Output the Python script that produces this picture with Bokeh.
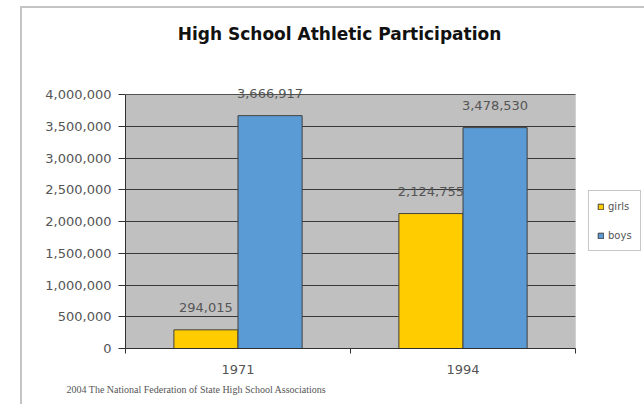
from bokeh.plotting import figure
from bokeh.models import (ColumnDataSource, FixedTicker, NumeralTickFormatter, Range1d,
                          LabelSet, Label, Legend, LegendItem, BoxAnnotation, Title)
from bokeh.core.properties import value
from bokeh.embed import file_html
from bokeh.resources import INLINE

# ---- data ----
years = ["1971", "1994"]
girls = [294015, 2124755]
boys = [3666917, 3478530]
y_ticks = [0, 500000, 1000000, 1500000, 2000000, 2500000, 3000000, 3500000, 4000000]
series_names = ["girls", "boys"]
series_colors = ["#FFCC00", "#5B9BD5"]
title_text = "High School Athletic Participation"
source_text = "2004 The National Federation of State High School Associations"

centers = [i + 0.5 for i in range(len(years))]
bar_w = 0.285
off = bar_w / 2

src = ColumnDataSource(dict(
    xg=[c - off for c in centers],
    xb=[c + off for c in centers],
    girls=girls,
    boys=boys,
    girls_lbl=[f"{v:,}" for v in girls],
    boys_lbl=[f"{v:,}" for v in boys],
))

# the frame spans the whole area right of the axis and above the x axis;
# the grey plot area covers only 0..len(years) x 0..top tick
x_end = len(years) * 519 / 450
y_top = y_ticks[-1] * 348 / 254

p = figure(width=644, height=404, output_backend="svg", toolbar_location=None,
           x_range=Range1d(0, x_end), y_range=Range1d(0, y_top),
           min_border_left=125, min_border_right=0, min_border_top=0, min_border_bottom=56)
p.background_fill_color = None
p.border_fill_color = None
p.outline_line_color = None
p.styles = {
    "background-color": "white",
    "background-image": "linear-gradient(#C4C4C4,#C4C4C4), linear-gradient(#C4C4C4,#C4C4C4)",
    "background-position": "20px 6px, 20px 6px",
    "background-size": "100% 2px, 2px 100%",
    "background-repeat": "no-repeat",
}

# grey plot area fill
p.add_layout(BoxAnnotation(left=0, right=len(years), bottom=y_ticks[0], top=y_ticks[-1],
                           fill_color="#C0C0C0", fill_alpha=1, line_color=None, level="image"))

# axes & grid
p.xgrid.grid_line_color = None
p.ygrid.grid_line_color = "#383838"
p.ygrid.grid_line_width = 1
p.ygrid.ticker = FixedTicker(ticks=y_ticks)

# white cover so grid lines stop at the grey area, then the area's outline
p.add_layout(BoxAnnotation(left=len(years), bottom=y_ticks[0] - 1, top=y_ticks[-1] * 1.01,
                           fill_color="white", fill_alpha=1, line_color=None, level="underlay"))
p.add_layout(BoxAnnotation(left=0, right=len(years), bottom=y_ticks[0], top=y_ticks[-1],
                           fill_alpha=0, line_color="#8A8A8A", line_width=1, level="underlay"))

rg = p.vbar(x="xg", top="girls", width=bar_w, source=src, fill_color=series_colors[0],
            line_color="#404040", line_width=1)
rb = p.vbar(x="xb", top="boys", width=bar_w, source=src, fill_color=series_colors[1],
            line_color="#404040", line_width=1)

lbl_font = "DejaVu Sans"
for xf, yf, tf in (("xg", "girls", "girls_lbl"), ("xb", "boys", "boys_lbl")):
    p.add_layout(LabelSet(x=xf, y=yf, text=tf, source=src, text_align="center",
                          text_baseline="middle", y_offset=22, text_font_size="13px",
                          text_color="#555555", text_font=value(lbl_font)))

p.yaxis.ticker = FixedTicker(ticks=y_ticks)
p.yaxis.bounds = (y_ticks[0], y_ticks[-1])
p.yaxis.formatter = NumeralTickFormatter(format="0,0")
p.yaxis.axis_line_color = "#303030"
p.yaxis.major_tick_line_color = "#303030"
p.yaxis.major_tick_out = 7
p.yaxis.major_tick_in = 0
p.yaxis.minor_tick_line_color = None
p.yaxis.major_label_standoff = 7
p.yaxis.major_label_text_font = lbl_font
p.yaxis.major_label_text_font_size = "13px"
p.yaxis.major_label_text_color = "#555555"

p.xaxis.ticker = FixedTicker(ticks=centers, minor_ticks=list(range(len(years) + 1)))
p.xaxis.bounds = (0, len(years))
p.xaxis.major_label_overrides = {c: y for c, y in zip(centers, years)}
p.xaxis.axis_line_color = "#303030"
p.xaxis.major_tick_line_color = None
p.xaxis.major_tick_out = 5
p.xaxis.minor_tick_line_color = "#303030"
p.xaxis.minor_tick_out = 5
p.xaxis.minor_tick_in = 0
p.xaxis.major_label_standoff = 11
p.xaxis.major_label_text_font = lbl_font
p.xaxis.major_label_text_font_size = "13px"
p.xaxis.major_label_text_color = "#555555"

# legend
legend = Legend(items=[LegendItem(label=series_names[0], renderers=[rg]),
                       LegendItem(label=series_names[1], renderers=[rb])],
                location=(463, 97), glyph_width=7, glyph_height=7, label_height=14,
                spacing=15, padding=8, margin=0, label_standoff=4,
                label_text_font=lbl_font, label_text_font_size="10px",
                label_text_color="#555555", border_line_color="#909090",
                background_fill_color="white", background_fill_alpha=1)
p.add_layout(legend, "center")

# title (inside the frame's headroom; screen units from the frame's bottom-left)
p.add_layout(Label(x=214, y=315, x_units="screen", y_units="screen", text=title_text,
                   text_align="center", text_baseline="middle", text_font="DejaVu Sans",
                   text_font_style="bold", text_font_size="17px", text_color="#111111"))

# source note below the axis
note = Title(text=source_text, align="left", offset=-59, text_font="Liberation Serif",
             text_font_size="10px", text_font_style="normal", text_color="#555555")
p.add_layout(note, "below")

open("out.html", "w").write(file_html(p, INLINE))
